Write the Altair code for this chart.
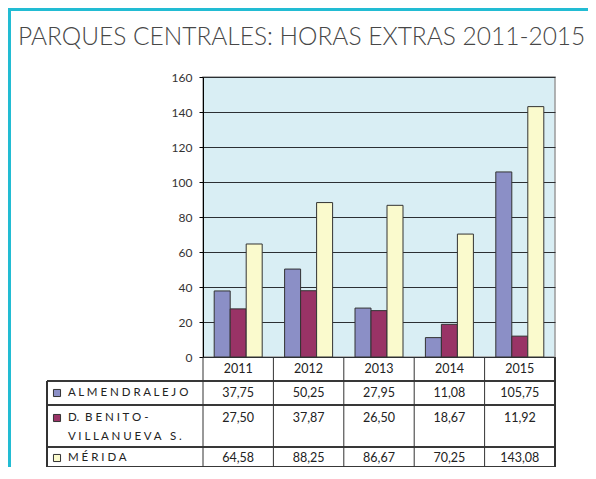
import altair as alt
import pandas as pd

# ---------------- data ----------------
years = ["2011", "2012", "2013", "2014", "2015"]
series = ["ALMENDRALEJO", "D. BENITO-VILLANUEVA S.", "MÉRIDA"]
almendralejo = [37.75, 50.25, 27.95, 11.08, 105.75]
benito_villanueva = [27.50, 37.87, 26.50, 18.67, 11.92]
merida = [64.58, 88.25, 86.67, 70.25, 143.08]
y_ticks = [0, 20, 40, 60, 80, 100, 120, 140, 160]
title_text = "PARQUES CENTRALES: HORAS EXTRAS 2011-2015"
# row labels as shown in the table (letter-spaced, two lines for the 2nd series)
NB = "\u00a0"
row_label_lines = [
    ["A L M E N D R A L E J O"],
    ["D." + NB + NB + "B E N I T O -", "V I L L A N U E V A" + NB + NB + NB + "S ."],
    ["M É R I D A"],
]

# ---------------- style ----------------
colors = ["#8b8fc6", "#993366", "#fafacd"]
W, H = 352, 280
FONT = "Lato"
row_text_y = [316, 341, 381]          # first text line of each table row
second_line_dy = 19
header_y = 292
label_x = -135
square_x = -146
hlines = [304, 328, 370, 390]
table_left = -156
table_bottom = 390
teal = "#22bcd3"

values = [almendralejo, benito_villanueva, merida]
rows = []
for s, vals in zip(series, values):
    for y, v in zip(years, vals):
        rows.append({"year": y, "series": s, "value": v,
                     "label": f"{v:.2f}".replace(".", ",")})
df = pd.DataFrame(rows)
years_df = pd.DataFrame({"year": years})

x_enc = alt.X("year:N", sort=years,
              scale=alt.Scale(domain=years, paddingInner=0, paddingOuter=0),
              axis=None)
color_enc = alt.Color("series:N", sort=series,
                      scale=alt.Scale(domain=series, range=colors), legend=None)

bars = alt.Chart(df).mark_bar(stroke="#333333", strokeWidth=1).encode(
    x=x_enc,
    xOffset=alt.XOffset("series:N", sort=series,
                        scale=alt.Scale(domain=series, paddingInner=0, paddingOuter=0.7)),
    y=alt.Y("value:Q", scale=alt.Scale(domain=[0, 160], nice=False),
            axis=alt.Axis(values=y_ticks, grid=True, gridColor="#2b2f33",
                          gridWidth=1, domainColor="#000000", tickColor="#000000",
                          tickSize=4, labelPadding=7, labelFont=FONT,
                          labelFontSize=12, labelColor="#333333", title=None)),
    color=color_enc,
)

layers = [bars]

# table grid lines
for hy in hlines:
    layers.append(alt.Chart(years_df).mark_rule(color="#333333", strokeWidth=1).encode(
        x=alt.value(table_left), x2=alt.value(W), y=alt.value(hy)))
layers.append(alt.Chart(years_df).mark_rule(color="#333333", strokeWidth=1).encode(
    x=alt.X("year:N", sort=years, bandPosition=0, axis=None),
    y=alt.value(H), y2=alt.value(table_bottom)))
layers.append(alt.Chart(years_df).mark_rule(color="#333333", strokeWidth=1.5).encode(
    x=alt.value(W), y=alt.value(H), y2=alt.value(table_bottom)))
layers.append(alt.Chart(years_df).mark_rule(color="#333333", strokeWidth=1.5).encode(
    x=alt.value(table_left), y=alt.value(hlines[0]), y2=alt.value(table_bottom)))

# header years
layers.append(alt.Chart(years_df).mark_text(font=FONT, fontSize=12.5, color="#222222",
                                            baseline="middle").encode(
    x=alt.X("year:N", sort=years, bandPosition=0.5, axis=None),
    y=alt.value(header_y), text="year:N"))

# values, row labels and legend squares
for i, s in enumerate(series):
    sub = df[df["series"] == s]
    layers.append(alt.Chart(sub).mark_text(font=FONT, fontSize=12.5, color="#222222",
                                           baseline="middle").encode(
        x=alt.X("year:N", sort=years, bandPosition=0.5, axis=None),
        y=alt.value(row_text_y[i]), text="label:N"))
    for j, line in enumerate(row_label_lines[i]):
        layers.append(alt.Chart(pd.DataFrame({"t": [line]})).mark_text(
            font=FONT, fontSize=11.5, color="#222222", align="left",
            baseline="middle").encode(
            x=alt.value(label_x), y=alt.value(row_text_y[i] + j * second_line_dy),
            text="t:N"))
    layers.append(alt.Chart(pd.DataFrame({"series": [s]})).mark_point(
        shape="square", filled=True, size=50, stroke="#333333", strokeWidth=1,
        opacity=1).encode(
        x=alt.value(square_x), y=alt.value(row_text_y[i]), color=color_enc))

# title
layers.append(alt.Chart(pd.DataFrame({"t": [title_text]})).mark_text(
    font=FONT, fontSize=24.5, fontWeight=300, color="#474747", align="left",
    baseline="alphabetic").encode(x=alt.value(-185), y=alt.value(-32), text="t:N"))

# teal frame
layers.append(alt.Chart(years_df).mark_rule(color=teal, strokeWidth=3).encode(
    x=alt.value(-195), x2=alt.value(W + 40), y=alt.value(-67.5)))
layers.append(alt.Chart(years_df).mark_rule(color=teal, strokeWidth=3).encode(
    x=alt.value(-193.5), y=alt.value(-69), y2=alt.value(table_bottom + 120)))

chart = alt.layer(*layers).properties(
    width=W, height=H,
    autosize=alt.AutoSizeParams(type="none"),
    padding={"left": 195, "top": 69, "right": 33, "bottom": 110},
).configure_view(fill="#d9eef4", stroke="#9a9a9a", strokeWidth=1.5)

chart.save("out.html", embed_options={"renderer": "svg", "actions": False})
